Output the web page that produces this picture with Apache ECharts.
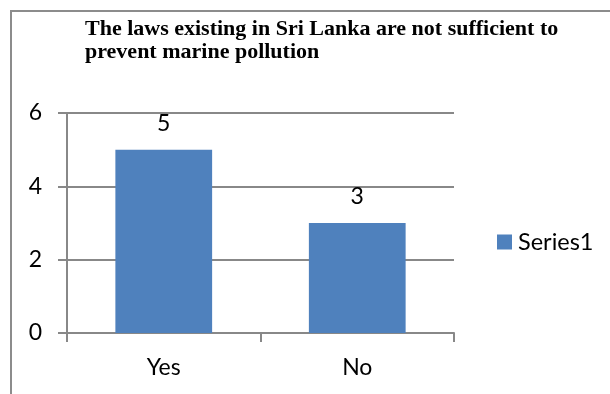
<!DOCTYPE html>
<html>
<head>
<meta charset="utf-8">
<script src="https://cdn.jsdelivr.net/npm/echarts@6/dist/echarts.min.js"></script>
<style>
html,body{margin:0;padding:0;background:#fff;}
#chart{width:610px;height:394px;}
</style>
</head>
<body>
<div id="chart"></div>
<script>
var titleText = 'The laws existing in Sri Lanka are not sufficient to\nprevent marine pollution';
var categories = ['Yes', 'No'];
var seriesName = 'Series1';
var values = [5, 3];
var yTicks = [0, 2, 4, 6];

var chart = echarts.init(document.getElementById('chart'), null, {renderer: 'canvas'});
var labelFont = 'Lato, "Open Sans", sans-serif';
chart.setOption({
  animation: false,
  backgroundColor: '#ffffff',
  title: {
    text: titleText,
    left: 85,
    top: 18,
    padding: 0,
    textStyle: {
      fontFamily: '"Liberation Serif", "Times New Roman", serif',
      fontWeight: 'bold',
      fontSize: 22,
      lineHeight: 23,
      color: '#000'
    }
  },
  graphic: [{
    type: 'rect',
    shape: {x: 11, y: 11, width: 700, height: 500},
    style: {fill: 'none', stroke: '#8c8c8c', lineWidth: 2},
    silent: true,
    z: -1
  }],
  legend: {
    data: [seriesName],
    left: 497,
    top: 230,
    padding: 0,
    itemWidth: 15,
    itemHeight: 15,
    itemGap: 10,
    icon: 'rect',
    textStyle: {fontFamily: labelFont, fontSize: 23.5, color: '#000', padding: [0, 0, 0, 1]}
  },
  grid: {left: 67, right: 156, top: 113, bottom: 61, containLabel: false},
  xAxis: {
    type: 'category',
    data: categories,
    axisLine: {show: true, lineStyle: {color: '#888', width: 2}},
    axisTick: {show: true, length: 9, lineStyle: {color: '#888', width: 2}},
    axisLabel: {fontFamily: labelFont, fontSize: 23, color: '#000', margin: 23},
    splitLine: {show: false}
  },
  yAxis: {
    type: 'value',
    min: yTicks[0],
    max: yTicks[yTicks.length - 1],
    interval: 2,
    axisLine: {show: true, lineStyle: {color: '#888', width: 2}},
    axisTick: {show: true, length: 9, lineStyle: {color: '#888', width: 2}},
    axisLabel: {fontFamily: labelFont, fontSize: 23, color: '#000', margin: 25},
    splitLine: {show: true, lineStyle: {color: '#888', width: 2}}
  },
  series: [{
    name: seriesName,
    type: 'bar',
    data: values,
    barWidth: '50%',
    itemStyle: {color: '#4f81bd'},
    label: {
      show: true,
      position: 'top',
      distance: 15,
      fontFamily: labelFont,
      fontSize: 23,
      color: '#000'
    }
  }]
});
</script>
</body>
</html>
